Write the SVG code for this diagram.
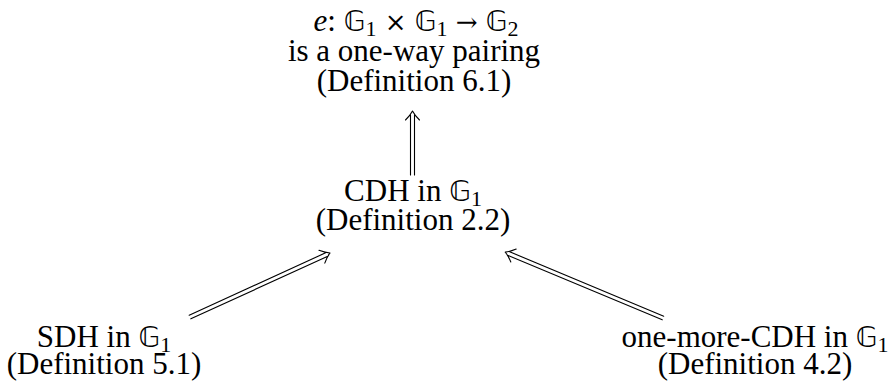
<svg xmlns="http://www.w3.org/2000/svg" width="889" height="381" viewBox="0 0 889 381">
<style>
text{font-family:"Liberation Serif","DejaVu Serif",serif;font-size:31px;fill:#000;text-anchor:middle}
.bb{font-family:"DejaVu Sans","DejaVu Serif",serif;font-size:28px}
.sym{font-family:"DejaVu Serif",serif;font-size:26px}
.sub{font-size:22px}
.it{font-style:italic}
.ln{stroke:#000;stroke-width:1.1;fill:none;stroke-linecap:round;stroke-linejoin:round}
</style>
<rect width="889" height="381" fill="#fff"/>
<g id="connectors">
<g transform="translate(412.5,175) rotate(-90)">
<path class="ln" d="M0,-2 H60 M0,2 H60 M55,-7 Q60,-2 64,0 Q60,2 55,7"/>
</g>
<g transform="translate(190,317) rotate(-24.57)">
<path class="ln" d="M0,-2 H150 M0,2 H150 M145,-7 Q150,-2 154,0 Q150,2 145,7"/>
</g>
<g transform="translate(663,318) rotate(-157.33)">
<path class="ln" d="M0,-2 H167 M0,2 H167 M162,-7 Q167,-2 171,0 Q167,2 162,7"/>
</g>
</g>
<g id="node-pairing">
<text x="416" y="31"><tspan class="it">e</tspan>: <tspan class="bb">𝔾</tspan><tspan class="sub" dy="5">1</tspan><tspan class="sym" dy="-5"> × </tspan><tspan class="bb">𝔾</tspan><tspan class="sub" dy="5">1</tspan><tspan class="sym" dy="-5"> → </tspan><tspan class="bb">𝔾</tspan><tspan class="sub" dy="5">2</tspan><tspan x="414" y="61">is a one-way pairing</tspan><tspan x="414" y="91">(Definition 6.1)</tspan></text>
</g>
<g id="node-cdh">
<text x="413" y="201">CDH in <tspan class="bb">𝔾</tspan><tspan class="sub" dy="5">1</tspan><tspan x="413" y="230">(Definition 2.2)</tspan></text>
</g>
<g id="node-sdh">
<text x="104" y="347">SDH in <tspan class="bb">𝔾</tspan><tspan class="sub" dy="5">1</tspan><tspan x="104" y="374">(Definition 5.1)</tspan></text>
</g>
<g id="node-omcdh">
<text x="755" y="347">one-more-CDH in <tspan class="bb">𝔾</tspan><tspan class="sub" dy="5">1</tspan><tspan x="755" y="374">(Definition 4.2)</tspan></text>
</g>
</svg>
